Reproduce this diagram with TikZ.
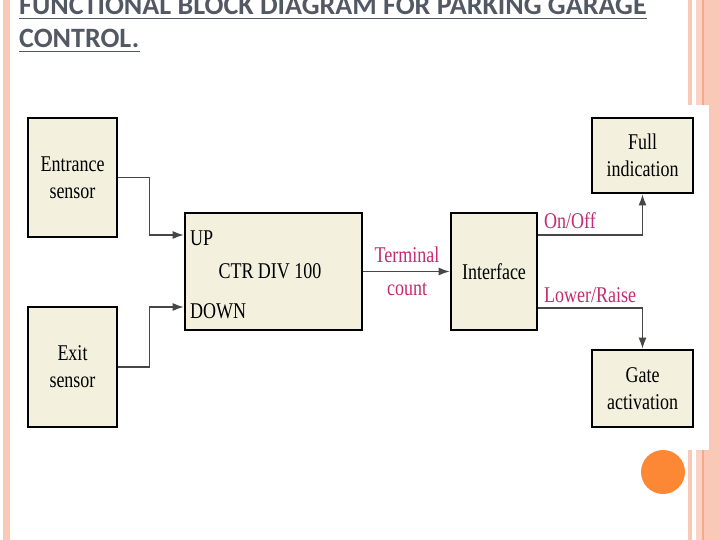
\documentclass[tikz,border=0pt]{standalone}
\usepackage{fontspec}
\setmainfont{Liberation Serif}
\newfontfamily\condfont[FakeStretch=0.8]{Liberation Serif}
\newfontfamily\titlefont{Carlito}
\usetikzlibrary{arrows.meta}
\definecolor{peach}{RGB}{250,200,182}
\definecolor{peachdark}{RGB}{245,170,140}
\definecolor{dotorange}{RGB}{252,136,54}
\definecolor{boxfill}{RGB}{244,240,222}
\definecolor{labelpink}{RGB}{198,42,112}
\definecolor{titlegrey}{RGB}{83,89,100}
\definecolor{wiregrey}{RGB}{70,70,70}
\tikzset{
  blockbox/.style={draw=black, line width=2.6pt, fill=boxfill, inner sep=0pt,
    align=center, font=\condfont\fontsize{22.5}{27}\selectfont},
  blocktext/.style={inner sep=0pt, font=\condfont\fontsize{22.5}{27}\selectfont},
  pinklabel/.style={inner sep=0pt, text=labelpink, font=\condfont\fontsize{22.5}{27}\selectfont},
  wire/.style={draw=wiregrey, line width=1.4pt},
  arrowwire/.style={wire, -{Latex[length=11pt,width=8pt]}},
  titletext/.style={inner sep=0pt, text=titlegrey, font=\titlefont\bfseries\fontsize{28}{33}\selectfont},
  uline/.style={draw=titlegrey, line width=1.8pt}
}
\begin{document}
\begin{tikzpicture}[x=1pt,y=-1pt]
\useasboundingbox (0,0) rectangle (720,540);
\clip (0,0) rectangle (720,540);
% background stripes
\fill[peach] (3,0) rectangle (9.5,540);
\fill[peach] (688,0) rectangle (692,540);
\fill[peach!80!white] (696,0) rectangle (702,540);
\fill[peachdark] (702,0) rectangle (704,540);
\fill[peach] (704,0) rectangle (720,540);
% picture area
\fill[white] (12,105) rectangle (709,450);
% orange dot
\fill[dotorange] (663,472) circle (22);
% title
\node[titletext, anchor=base west] (t1) at (19,15) {FUNCTIONAL BLOCK DIAGRAM FOR PARKING GARAGE};
\node[titletext, anchor=base west] (t2) at (19,48) {CONTROL.};
\draw[uline] ([yshift=-3.5pt]t1.base west) -- ([yshift=-3.5pt]t1.base east);
\draw[uline] ([yshift=-3.5pt]t2.base west) -- ([yshift=-3.5pt]t2.base east);
% blocks
\node[blockbox, minimum width=89pt, minimum height=119pt] (ent) at (72.5,177.5) {Entrance\\sensor};
\node[blockbox, minimum width=89pt, minimum height=120pt] (exit) at (72.5,367) {Exit\\sensor};
\node[blockbox, minimum width=177pt, minimum height=117pt] (ctr) at (273.5,271.5) {\hspace*{-7pt}CTR DIV 100};
\node[blockbox, minimum width=86pt, minimum height=117pt] (intf) at (494,271.5) {Interface};
\node[blockbox, minimum width=101pt, minimum height=75pt] (full) at (642.5,155.5) {Full\\indication};
\node[blockbox, minimum width=101pt, minimum height=77pt] (gate) at (642.5,388.5) {Gate\\activation};
% inner labels
\node[blocktext, anchor=west] (up) at (190,238) {UP};
\node[blocktext, anchor=west] (down) at (190,311) {DOWN};
% connectors
\draw[arrowwire] (ent.east) -- ++(31,0) |- ([yshift=36.5pt]ctr.west);
\draw[arrowwire] (exit.east) -- ++(31,0) |- ([yshift=-35.5pt]ctr.west);
\draw[arrowwire] (ctr.east) -- (intf.west);
\draw[arrowwire] ([yshift=36.5pt]intf.east) -| (full.south);
\draw[arrowwire] ([yshift=-36.5pt]intf.east) -| (gate.north);
% signal labels
\node[pinklabel] (term) at (407,255) {Terminal};
\node[pinklabel] (cnt) at (407,289) {count};
\node[pinklabel, anchor=west] (onoff) at (544,221) {On/Off};
\node[pinklabel, anchor=west] (lr) at (544,295) {Lower/Raise};
\end{tikzpicture}
\end{document}
